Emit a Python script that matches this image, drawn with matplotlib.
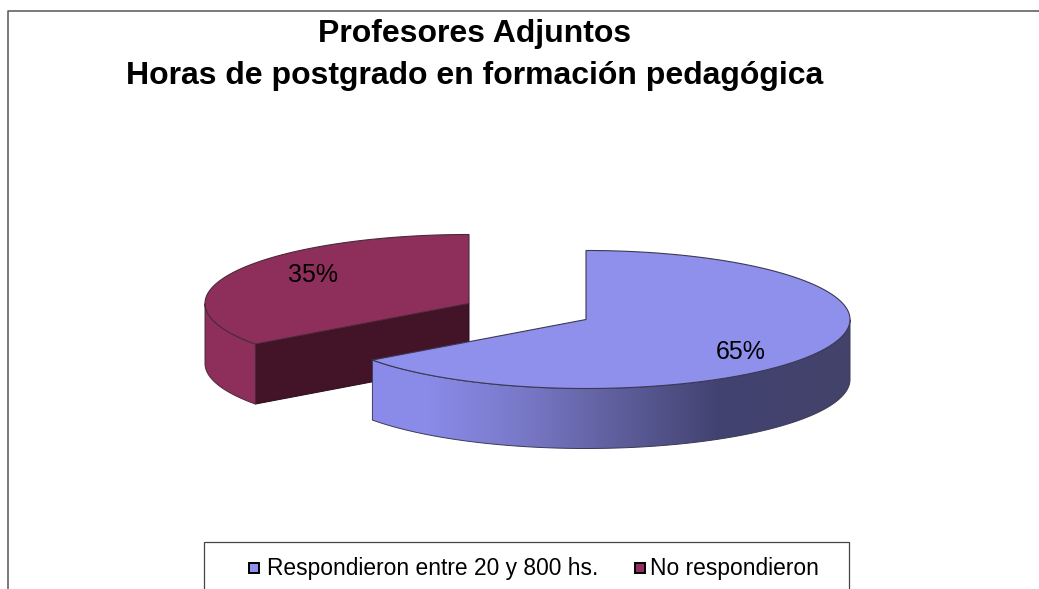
import numpy as np
import matplotlib
matplotlib.use("Agg")
import matplotlib.pyplot as plt
from matplotlib.colors import LinearSegmentedColormap
from matplotlib.patches import Polygon, Rectangle

plt.rcParams['font.family'] = ['Liberation Sans', 'DejaVu Sans']

# datos
title = "Profesores Adjuntos\nHoras de postgrado en formación pedagógica"
categories = ["Respondieron entre 20 y 800 hs.", "No respondieron"]
values = [65, 35]
labels = ["65%", "35%"]
colors = ["#8f8fec", "#8e2f5b"]

W, H = 1039, 589
RX, RY, DEPTH = 264, 69, 60
centers = [(586, 319.5), (469, 303.5)]  # la porcion roja esta separada


def arc(cx, cy, a0, a1, n=200):
    t = np.radians(np.linspace(a0, a1, n))
    return np.column_stack([cx + RX * np.cos(t), cy - RY * np.sin(t)])


fig = plt.figure(figsize=(W / 100, H / 100), dpi=100)
ax = fig.add_axes([0, 0, 1, 1])
ax.set_xlim(0, W)
ax.set_ylim(H, 0)
ax.axis("off")

# marco exterior, cortado por la derecha y por abajo
ax.plot([7.5, 7.5, W + 5], [H + 5, 10.5, 10.5], color="#555555", lw=1.1)

# angulos de las porciones, desde las 12 en sentido horario
ang_blue = 360 * values[0] / sum(values)
ang_red = 360 * values[1] / sum(values)
blue_end = 90 - ang_blue
red_end = 90 + ang_red
edge = "#3a3a55"

# porcion roja: cara de corte, lateral y tapa
cx, cy = centers[1]
p = arc(cx, cy, red_end, red_end, 1)[0]
ax.add_patch(Polygon([(cx, cy), p, (p[0], p[1] + DEPTH), (cx, cy + DEPTH)],
                     fc="#431327", ec="#2a0c18", lw=0.7, zorder=2))
side = arc(cx, cy, 180, red_end)
ax.add_patch(Polygon(np.vstack([side, (side + [0, DEPTH])[::-1]]),
                     fc="#8e2f5b", ec="#4a2a3a", lw=0.7, zorder=2))
top = arc(cx, cy, 90, red_end)
ax.add_patch(Polygon(np.vstack([[(cx, cy)], top]),
                     fc=colors[1], ec="#4a2a3a", lw=0.8, zorder=3))

# porcion azul: lateral con degradado y tapa
cx, cy = centers[0]
side = arc(cx, cy, blue_end, 0)
poly = Polygon(np.vstack([side, (side + [0, DEPTH])[::-1]]),
               fc="none", ec=edge, lw=0.7, zorder=5)
ax.add_patch(poly)
cmap = LinearSegmentedColormap.from_list(
    "lado", [(0, "#8b8beb"), (0.12, "#8a8ae8"), (0.30, "#7a7acb"),
             (0.50, "#60609f"), (0.72, "#434372"), (1, "#42426a")])
x0, x1 = side[:, 0].min(), side[:, 0].max()
grad = np.linspace(0, 1, 256)[None, :]
im = ax.imshow(grad, cmap=cmap, extent=[x0, x1, H, 0], aspect="auto", zorder=4)
im.set_clip_path(poly)
ax.set_xlim(0, W)
ax.set_ylim(H, 0)
top = arc(cx, cy, 90, blue_end, 400)
ax.add_patch(Polygon(np.vstack([[(cx, cy)], top]),
                     fc=colors[0], ec=edge, lw=0.8, zorder=6))

# etiquetas de porcentaje
ax.text(740.5, 352, labels[0], fontsize=18, ha="center", va="center", color="black", zorder=7)
ax.text(313, 275.5, labels[1], fontsize=18, ha="center", va="center", color="black", zorder=7)

# titulo
ax.text(474.5, 34, title.split("\n")[0], fontsize=23, fontweight="bold", ha="center", va="center")
ax.text(474.5, 76, title.split("\n")[1], fontsize=23, fontweight="bold", ha="center", va="center")

# leyenda
ax.add_patch(Rectangle((204, 542), 645, 60, fc="white", ec="#444444", lw=0.9, zorder=2))
ax.add_patch(Rectangle((249, 563), 10, 10, fc=colors[0], ec="black", lw=1.4, zorder=3))
ax.add_patch(Rectangle((635, 563), 10, 10, fc=colors[1], ec="black", lw=1.4, zorder=3))
ax.text(267, 568, categories[0], fontsize=16.4, ha="left", va="center", zorder=3)
ax.text(650, 568, categories[1], fontsize=16.4, ha="left", va="center", zorder=3)

fig.savefig("out.png", dpi=100)
